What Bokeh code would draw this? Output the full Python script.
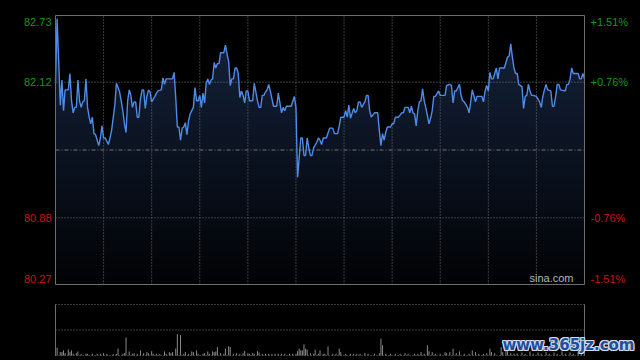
import numpy as np
from bokeh.plotting import figure
from bokeh.models import Range1d, GlobalInlineStyleSheet
from bokeh.core.properties import value
from bokeh.layouts import column
from bokeh.embed import file_html
from bokeh.resources import INLINE

# ---------------- data (minutes after 09:30, HK session 0..330) ----------------
session_len = 330
prev_close = 81.50
price_low = 80.27
price_high = 82.73
grid_minutes = [30, 60, 90, 120, 150, 180, 210, 240, 270, 300]
left_ticks = [80.27, 80.88, 82.12, 82.73]

am_minutes = [0, 1, 3, 4, 5, 6, 8, 9, 10, 11,
              12, 13, 14, 15, 16, 17, 18, 19, 20, 21,
              22, 23, 24, 25, 26, 27, 28, 29, 30, 31,
              33, 34, 35, 37, 38, 40, 41, 42, 43, 44,
              45, 46, 47, 48, 49, 50, 51, 52, 53, 54,
              55, 56, 57, 58, 59, 60, 62, 63, 64, 66,
              67, 68, 69, 71, 73, 74, 75, 76, 77, 78,
              79, 80, 81, 82, 83, 84, 86, 87, 88, 89,
              90, 91, 92, 93, 94, 95, 96, 97, 98, 99,
              100, 101, 102, 103, 104, 105, 106, 107, 108, 109,
              110, 111, 112, 113, 114, 115, 116, 117, 118, 119,
              120, 121, 123, 124, 125, 126, 127, 128, 129, 130,
              131, 132, 133, 134, 135, 136, 138, 139, 140, 141,
              142, 143, 144, 147, 149, 150]
am_prices = [82.11, 82.70, 81.91, 82.14, 81.86, 82.05, 82.05, 82.20, 81.95, 81.84,
             81.89, 81.89, 82.14, 81.95, 81.89, 81.94, 81.95, 82.15, 81.89, 81.80,
             81.74, 81.80, 81.65, 81.64, 81.59, 81.54, 81.61, 81.72, 81.61, 81.61,
             81.55, 81.61, 81.68, 81.91, 82.11, 82.03, 81.95, 81.86, 81.74, 81.66,
             81.95, 82.05, 82.00, 81.89, 81.94, 81.94, 81.80, 81.80, 81.97, 82.05,
             82.05, 81.88, 81.99, 82.05, 82.03, 81.94, 81.99, 82.02, 82.04, 82.05,
             82.16, 82.10, 82.15, 82.15, 82.15, 82.21, 81.98, 81.71, 81.71, 81.59,
             81.70, 81.71, 81.75, 81.64, 81.77, 81.83, 81.89, 82.07, 81.95, 81.95,
             82.00, 81.89, 82.02, 81.93, 82.11, 82.15, 82.10, 82.14, 82.15, 82.30,
             82.25, 82.29, 82.29, 82.39, 82.39, 82.39, 82.46, 82.38, 82.31, 82.09,
             82.15, 82.15, 82.25, 82.25, 82.20, 81.98, 82.04, 82.00, 81.93, 82.04,
             82.04, 81.95, 81.95, 82.11, 82.03, 81.95, 81.89, 81.89, 82.00, 82.00,
             82.03, 82.05, 82.10, 82.04, 81.97, 81.90, 81.90, 82.02, 81.93, 81.84,
             81.89, 81.86, 81.90, 81.90, 81.99, 81.89]

pm_minutes = [151, 152, 153, 154, 155, 156, 157, 158, 159, 160,
              161, 163, 164, 165, 166, 167, 169, 171, 173, 174,
              176, 177, 178, 180, 181, 182, 183, 184, 186, 187,
              188, 189, 190, 191, 193, 194, 195, 196, 197, 199,
              201, 202, 203, 204, 205, 206, 207, 209, 210, 211,
              212, 214, 216, 217, 218, 220, 221, 222, 223, 224,
              225, 226, 227, 228, 229, 230, 231, 233, 234, 235,
              236, 237, 239, 240, 243, 244, 246, 247, 248, 249,
              250, 252, 253, 254, 255, 257, 258, 259, 260, 262,
              263, 266, 267, 268, 269, 270, 271, 272, 273, 274,
              275, 276, 277, 280, 281, 282, 283, 284, 285, 286,
              287, 288, 289, 291, 292, 293, 294, 295, 296, 297,
              298, 300, 302, 303, 304, 305, 306, 307, 309, 310,
              311, 312, 313, 314, 315, 318, 319, 320, 321, 322,
              323, 326, 327, 328, 329, 330]
pm_prices = [81.25, 81.43, 81.61, 81.61, 81.45, 81.45, 81.61, 81.52, 81.45, 81.45,
             81.52, 81.57, 81.61, 81.59, 81.55, 81.61, 81.61, 81.70, 81.70, 81.65,
             81.65, 81.72, 81.80, 81.80, 81.86, 81.80, 81.91, 81.79, 81.88, 81.84,
             81.86, 81.94, 81.94, 81.89, 81.94, 82.00, 82.00, 81.86, 81.80, 81.84,
             81.84, 81.68, 81.54, 81.65, 81.59, 81.66, 81.71, 81.71, 81.74, 81.74,
             81.80, 81.80, 81.84, 81.84, 81.89, 81.89, 81.84, 81.90, 81.84, 81.83,
             81.72, 81.86, 81.94, 81.95, 82.06, 81.95, 81.89, 81.74, 81.79, 81.86,
             81.99, 81.99, 82.04, 82.00, 82.00, 82.09, 82.10, 82.09, 81.93, 82.04,
             82.04, 82.10, 82.00, 81.95, 81.94, 81.89, 81.84, 81.94, 82.05, 81.94,
             81.99, 81.99, 81.94, 82.04, 82.09, 82.04, 82.21, 82.15, 82.15, 82.20,
             82.25, 82.15, 82.25, 82.25, 82.30, 82.35, 82.36, 82.47, 82.35, 82.25,
             82.20, 82.20, 82.10, 82.08, 81.88, 81.99, 82.00, 82.10, 82.04, 82.00,
             82.00, 81.99, 81.94, 81.89, 81.99, 82.05, 82.10, 82.05, 82.04, 81.90,
             81.90, 81.99, 82.10, 82.10, 82.05, 82.04, 82.10, 82.10, 82.15, 82.25,
             82.20, 82.20, 82.15, 82.15, 82.20, 82.15]

vol_minutes = [0, 1, 3, 4, 5, 6, 8, 9, 10, 11,
               13, 14, 16, 19, 20, 23, 26, 28, 30, 32,
               36, 38, 39, 42, 43, 44, 46, 48, 49, 51,
               53, 55, 57, 58, 60, 61, 63, 65, 68, 69,
               71, 72, 73, 75, 76, 78, 80, 81, 83, 85,
               86, 88, 89, 92, 93, 95, 96, 98, 99, 100,
               101, 103, 105, 106, 108, 109, 111, 113, 115, 117,
               118, 120, 121, 123, 124, 126, 127, 129, 131, 133,
               135, 137, 139, 141, 143, 146, 148, 150, 151, 152,
               153, 154, 155, 156, 157, 159, 161, 162, 164, 165,
               167, 168, 170, 173, 175, 177, 178, 181, 184, 186,
               188, 190, 193, 195, 199, 202, 203, 204, 206, 209,
               212, 215, 218, 220, 224, 226, 228, 230, 232, 233,
               235, 237, 240, 243, 244, 246, 248, 250, 252, 255,
               258, 260, 262, 264, 267, 269, 271, 272, 274, 278,
               279, 281, 282, 284, 286, 288, 291, 293, 296, 298,
               301, 303, 306, 308, 311, 313, 316, 318, 321, 323,
               326, 328, 330]
volumes = [67, 77, 33, 33, 50, 23, 60, 33, 50, 17,
           23, 40, 17, 17, 17, 17, 17, 17, 23, 15,
           15, 15, 67, 17, 23, 177, 40, 17, 23, 17,
           50, 23, 33, 23, 43, 17, 17, 15, 40, 17,
           33, 23, 33, 67, 210, 200, 17, 33, 17, 40,
           33, 50, 17, 17, 23, 40, 17, 40, 33, 40,
           83, 23, 17, 67, 90, 83, 17, 23, 17, 23,
           43, 23, 17, 23, 17, 43, 30, 17, 17, 17,
           17, 17, 17, 17, 17, 17, 17, 17, 43, 67,
           50, 50, 110, 67, 57, 23, 17, 57, 17, 50,
           17, 17, 90, 17, 17, 67, 33, 17, 17, 17,
           17, 17, 23, 17, 17, 23, 167, 100, 17, 17,
           17, 17, 23, 17, 17, 17, 33, 17, 100, 43,
           33, 17, 17, 33, 23, 33, 67, 23, 40, 17,
           17, 50, 33, 17, 17, 23, 67, 33, 23, 83,
           33, 50, 43, 23, 17, 20, 30, 17, 40, 17,
           30, 17, 33, 17, 30, 17, 40, 17, 30, 17,
           33, 17, 40]
vol_max = 500

minutes = am_minutes + pm_minutes
prices = am_prices + pm_prices

UP = "#109c10"
DOWN = "#cc1212"
GRID = "#737373"
BORDER = "#6e6e6e"
FONT = value("Liberation Sans")

# ---------------- layout constants (pixels) ----------------
W = 640
H1, H2 = 290, 70
FL, FR = 55, 584            # plot area left/right
PT, PB = 15, 284            # price area top/bottom
VT, VB = 14, 65             # volume area top/bottom (inside lower figure)

xs = (FR - FL) / session_len
x_range = Range1d(-FL / xs, session_len + (W - FR) / xs)
ys = (PB - PT) / (price_high - price_low)
y_range = Range1d(price_low - (H1 - PB) / ys, price_high + PT / ys)
vs = (VB - VT) / vol_max
v_range = Range1d(-(H2 - VB) / vs, vol_max + VT / vs)


def make_fig(h, yr):
    f = figure(width=W, height=h, x_range=x_range, y_range=yr,
               x_axis_type=None, y_axis_type=None,
               output_backend="svg", toolbar_location=None,
               min_border=0, min_border_left=0, min_border_right=0,
               min_border_top=0, min_border_bottom=0,
               background_fill_color="#000000", border_fill_color="#000000")
    f.outline_line_color = None
    f.grid.visible = False
    return f


# ---------------- price panel ----------------
p = make_fig(H1, y_range)

p.varea(x=minutes, y1=price_low, y2=prices, fill_color=(22, 36, 62), fill_alpha=1.0)
n = 200
alpha = np.linspace(0.93, 0.0, n)
img = np.zeros((n, 2), dtype=np.uint32)
view = img.view(dtype=np.uint8).reshape((n, 2, 4))
view[:, :, 3] = (alpha * 255).astype(np.uint8)[:, None]
p.image_rgba(image=[img], x=0, y=price_low, dw=session_len, dh=price_high - price_low)

p.segment(x0=grid_minutes, y0=price_low, x1=grid_minutes, y1=price_high,
          line_color=GRID, line_width=1, line_dash="1 2")
inner = [t for t in left_ticks if price_low < t < price_high]
p.segment(x0=0, y0=inner, x1=session_len, y1=inner,
          line_color=GRID, line_width=1, line_dash="1 2")
p.segment(x0=[0], y0=[prev_close], x1=[session_len], y1=[prev_close],
          line_color=GRID, line_width=1, line_dash="4 2 1 2")

p.line(minutes, prices, line_color="#4f8be8", line_width=1.4)

p.quad(left=[0], right=[session_len], bottom=[price_low], top=[price_high],
       fill_color=None, line_color=BORDER, line_width=1)

for t in left_ticks:
    col = UP if t > prev_close else DOWN
    pct = (t / prev_close - 1) * 100
    if t == price_high:
        off = 6
    elif t == price_low:
        off = -6
    else:
        off = 0
    p.text(x=[0], y=[t], text=[f"{t:.2f}"], x_offset=-4, y_offset=off, text_align="right",
           text_baseline="middle", text_color=col, text_font=FONT, text_font_size="11px")
    p.text(x=[session_len], y=[t], text=[f"{pct:+.2f}%"], x_offset=6, y_offset=off,
           text_align="left", text_baseline="middle", text_color=col,
           text_font=FONT, text_font_size="11px")

p.text(x=[session_len], y=[price_low], text=["sina.com"], x_offset=-11, y_offset=-1,
       text_align="right", text_baseline="bottom", text_color="#b4b4b4",
       text_font=FONT, text_font_size="11px")

# ---------------- volume panel ----------------
p2 = make_fig(H2, v_range)
p2.segment(x0=vol_minutes, y0=0, x1=vol_minutes, y1=volumes,
           line_color="#8a8a8a", line_width=1)
p2.segment(x0=[0, session_len], y0=0, x1=[0, session_len], y1=vol_max,
           line_color=BORDER, line_width=1)
p2.segment(x0=0, y0=[0, vol_max / 2, vol_max], x1=session_len, y1=[0, vol_max / 2, vol_max],
           line_color=GRID, line_width=1, line_dash="1 2")

wm = "www.365jz.com"
wm_y = vol_max * 0.2
for dx, dy in [(-1, 0), (1, 0), (0, -1), (0, 1), (-1, -1), (1, 1), (1, -1), (-1, 1)]:
    p2.text(x=[session_len], y=[wm_y], text=[wm], x_offset=50 + dx, y_offset=dy,
            text_align="right", text_baseline="middle", text_color="#d6dce6",
            text_font=value("DejaVu Sans"), text_font_style="bold", text_font_size="15px")
p2.text(x=[session_len], y=[wm_y], text=[wm], x_offset=50,
        text_align="right", text_baseline="middle", text_color="#1f4f9c",
        text_font=value("DejaVu Sans"), text_font_style="bold", text_font_size="15px")

layout = column(p, p2, stylesheets=[GlobalInlineStyleSheet(css="html, body { background: #000000; }")])

open("out.html", "w").write(file_html(layout, INLINE))
